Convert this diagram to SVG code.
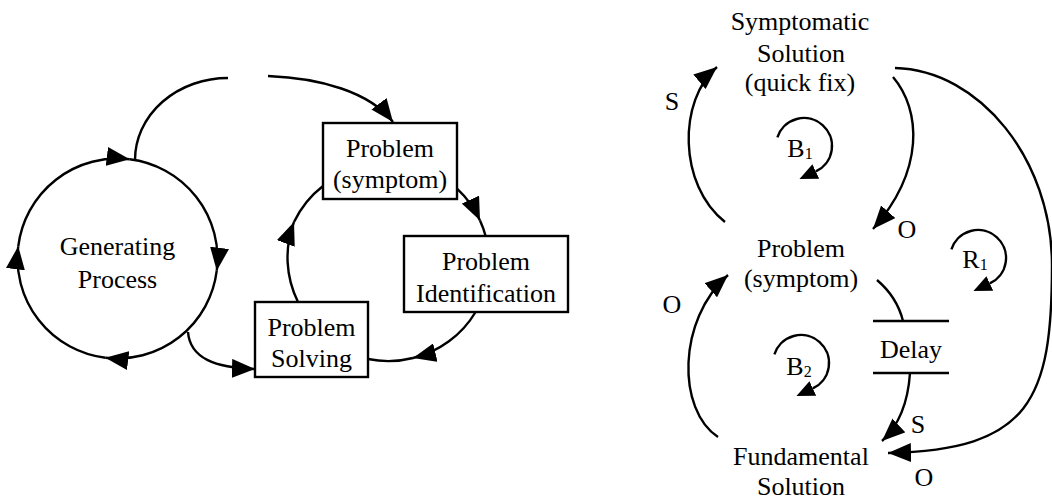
<svg xmlns="http://www.w3.org/2000/svg" width="1052" height="502" viewBox="0 0 1052 502">
<style>
text { font-family: "Liberation Serif", "Times New Roman", Times, serif; font-size: 26px; fill: #000; text-anchor: middle; }
.c { fill: none; stroke: #000; stroke-width: 2.4; }
.box { fill: #fff; stroke: #000; stroke-width: 2.4; }
.sub { font-size: 16px; }
</style>
<defs>
<marker id="ah" markerUnits="userSpaceOnUse" markerWidth="23" markerHeight="19" refX="23" refY="9.5" orient="auto" viewBox="0 0 23 19"><path d="M0,0 L23,9.5 L0,19 z" fill="#000"/></marker>
<marker id="lh" markerUnits="userSpaceOnUse" markerWidth="18" markerHeight="16" refX="0" refY="8" orient="auto" viewBox="0 0 18 16"><path d="M0,0 L18,8 L0,16 z" fill="#000"/></marker>
</defs>
<rect width="1052" height="502" fill="#fff"/>

<g id="connectors">
  <path class="c" d="M18.25,246.3 A100,100 0 0 1 129.7,159.25" marker-end="url(#ah)"/>
  <path class="c" d="M129.7,159.25 A100,100 0 0 1 216.75,270.7" marker-end="url(#ah)"/>
  <path class="c" d="M216.75,270.7 A100,100 0 0 1 105.3,357.75" marker-end="url(#ah)"/>
  <path class="c" d="M105.3,357.75 A100,100 0 0 1 18.25,246.3" marker-end="url(#ah)"/>
  <path class="c" d="M135,160 A93,82 0 0 1 228,78"/>
  <path class="c" d="M268,76 C320,78 370,92 393,122" marker-end="url(#ah)"/>
  <path class="c" d="M188,332 C190,358 215,368 255,369" marker-end="url(#ah)"/>
  <path class="c" d="M457,188.7 A100,100 0 0 1 480,220.5" marker-end="url(#ah)"/>
  <path class="c" d="M480,220.5 A100,100 0 0 1 485.6,236"/>
  <path class="c" d="M475.6,312 A100,100 0 0 1 413,358" marker-end="url(#ah)"/>
  <path class="c" d="M413,358 A100,100 0 0 1 368,359"/>
  <path class="c" d="M298,302 A100,100 0 0 1 294,222" marker-end="url(#ah)"/>
  <path class="c" d="M294,222 A100,100 0 0 1 323,186"/>

  <path class="c" d="M725,222 C678,185 678,100 717,67" marker-end="url(#ah)"/>
  <path class="c" d="M893,77 C921,110 925,170 873,229" marker-end="url(#ah)"/>
  <path class="c" d="M895,68 C980,70 1052,160 1052,265 C1052,400 1030,450 888,453" marker-end="url(#ah)"/>
  <path class="c" d="M877,280 Q897,297 903,321"/>
  <path class="c" d="M910,373 Q907,418 882,441" marker-end="url(#ah)"/>
  <path class="c" d="M718,437 C677,410 677,320 728,275" marker-end="url(#ah)"/>
  <path class="c" d="M777.4,137.3 A28,28 0 1 1 815.8,171.4" marker-end="url(#lh)"/>
  <path class="c" d="M951.4,249.35 A28,28 0 1 1 989.8,283.4" marker-end="url(#lh)"/>
  <path class="c" d="M774.4,354.35 A28,28 0 1 1 812.8,388.4" marker-end="url(#lh)"/>
</g>

<g id="generating-process" font-family="Liberation Serif">
  <text x="117.5" y="255">Generating</text>
  <text x="117.5" y="288">Process</text>
</g>
<g id="problem-symptom-left">
  <rect class="box" x="323" y="123" width="134" height="76"/>
  <text x="390" y="157">Problem</text>
  <text x="390" y="188">(symptom)</text>
</g>
<g id="problem-identification">
  <rect class="box" x="404" y="236" width="164" height="76"/>
  <text x="486" y="270">Problem</text>
  <text x="486" y="302">Identification</text>
</g>
<g id="problem-solving">
  <rect class="box" x="255" y="302" width="113" height="75"/>
  <text x="311.5" y="336">Problem</text>
  <text x="311.5" y="367">Solving</text>
</g>

<g id="symptomatic-solution">
  <text x="800" y="30">Symptomatic</text>
  <text x="801" y="62">Solution</text>
  <text x="800" y="91">(quick fix)</text>
</g>
<g id="problem-symptom-right">
  <text x="801" y="257">Problem</text>
  <text x="801" y="287">(symptom)</text>
</g>
<g id="fundamental-solution">
  <text x="801" y="465">Fundamental</text>
  <text x="801" y="495">Solution</text>
</g>
<g id="delay">
  <line class="c" x1="873" y1="321" x2="949" y2="321"/>
  <line class="c" x1="873" y1="373" x2="949" y2="373"/>
  <text x="911" y="358">Delay</text>
</g>
<g id="labels">
  <text x="672" y="110">S</text>
  <text x="907" y="238">O</text>
  <text x="672" y="313">O</text>
  <text x="918" y="433">S</text>
  <text x="924" y="486">O</text>
  <text x="800" y="157">B<tspan class="sub" dy="2">1</tspan></text>
  <text x="975" y="268">R<tspan class="sub" dy="2">1</tspan></text>
  <text x="799" y="375">B<tspan class="sub" dy="2">2</tspan></text>
</g>
</svg>
